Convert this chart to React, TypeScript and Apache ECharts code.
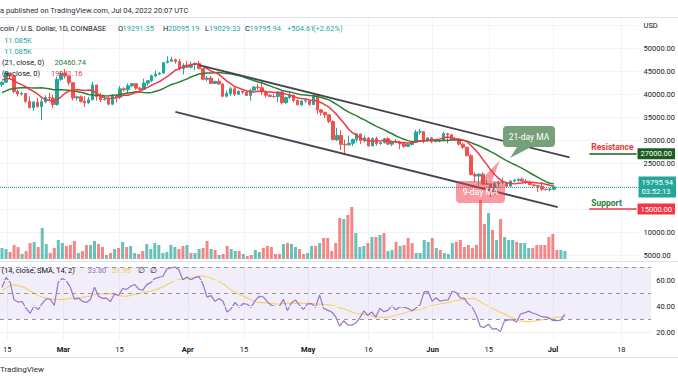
import React, { useEffect, useRef } from 'react';
import * as echarts from 'echarts';

const UP = '#26a69a';
const DOWN = '#ef5350';
const TXT = '#131722';
const FONT = 'Roboto, sans-serif';

const firstDate = '2022-02-14';
const axisDays = 162;

const tickLabels: [string, string][] = [
  ['2022-02-15', '15'], ['2022-03-01', 'Mar'], ['2022-03-15', '15'], ['2022-04-01', 'Apr'],
  ['2022-04-15', '15'], ['2022-05-01', 'May'], ['2022-05-16', '16'], ['2022-06-01', 'Jun'],
  ['2022-06-15', '15'], ['2022-07-01', 'Jul'], ['2022-07-18', '18'],
];
const monthLabels = ['Mar', 'Apr', 'May', 'Jun', 'Jul'];

// daily closes before the visible window (Jan 1 - Feb 13), used to warm up MA / RSI
const priorCloses = [
  47738, 47311, 46446, 45833, 43431, 43083, 41559, 41734, 41911, 41820, 42736, 43950, 42592, 43099,
  43178, 43112, 42251, 42375, 41744, 40681, 36458, 35075, 36277, 36655, 36955, 36836, 37165, 37717,
  38155, 37918, 38498, 38744, 36953, 37315, 41572, 41383, 42414, 43841, 44043, 44379, 43557, 42389,
  42218, 42070,
];

// Feb 14 - Jul 4, 2022
const opens = [
  42070, 42550, 44570, 43900, 40560, 40000, 40100, 38400, 37030, 38250, 37260, 38330, 39230, 39120, 37700,
  43180, 44430, 43910, 42450, 39150, 39400, 38420, 38060, 38740, 41960, 39440, 38730, 38810, 37790, 39670,
  39280, 41120, 40920, 41770, 42240, 41260, 41000, 42370, 42890, 43970, 44330, 44530, 46830, 47130, 47440, 47070,
  45530, 46280, 45830, 46420, 46620, 45520, 43190, 43460, 42280, 42770, 42160, 39530, 40090, 41150, 39940,
  40560, 40390, 39680, 40800, 41500, 41370, 40480, 39710, 39460, 39450, 40430, 38120, 39240, 39740, 38600,
  37640, 38480, 38520, 37720, 39690, 36550, 36020, 35470, 34050, 30080, 31000, 29050, 28950, 29280, 30090,
  31310, 29860, 30420, 28700, 30300, 29200, 29430, 30290, 29100, 29650, 29540, 29200, 28620, 29020, 29460, 31730,
  31800, 29800, 30450, 29700, 29860, 29910, 31370, 31130, 30200, 30110, 29090, 28420, 26580, 22490, 22150,
  22580, 20400, 20460, 19000, 20560, 20720, 20720, 19970, 21090, 21240, 21490, 21030, 20730, 20250, 20100,
  19930, 19300, 19240, 19291.35,
];
const highs = [
  42800, 44750, 44580, 44200, 40970, 40470, 40150, 39480, 38450, 39150, 39000, 39720, 40300, 39860, 43760,
  44950, 45400, 44100, 42500, 39650, 39700, 39550, 39380, 42600, 42050, 40250, 39500, 39300, 39900, 39880,
  41720, 41480, 42300, 42400, 42300, 41520, 43350, 43000, 44200, 45100, 44800, 46900, 48190, 48100, 47700, 47600,
  46700, 47200, 47050, 46900, 47200, 45530, 43900, 43960, 42800, 43400, 42420, 40700, 41550, 41500, 40880,
  40700, 40600, 41100, 41750, 42200, 42950, 40800, 39990, 39900, 40600, 40800, 39450, 40400, 39900, 38800,
  38680, 39150, 38650, 40000, 39850, 36650, 36150, 35500, 34250, 32650, 32150, 30100, 30950, 30300, 31450,
  31320, 31000, 30650, 30550, 30750, 29600, 30450, 30650, 29800, 30200, 29850, 29380, 29250, 29570, 32200, 32400,
  31970, 30650, 30680, 29950, 30150, 31750, 31550, 31330, 30650, 30350, 29450, 28550, 26900, 23000, 22800,
  22980, 21350, 20750, 20800, 21000, 21700, 20850, 21200, 21550, 21600, 21850, 21500, 21200, 20400, 20150,
  20850, 19420, 19650, 20095.19,
];
const lows = [
  41570, 42450, 43330, 40100, 39450, 39650, 38050, 36850, 36350, 37050, 34320, 38000, 38600, 37000, 37450,
  42850, 43350, 41850, 38600, 38600, 38100, 37150, 37880, 38650, 38550, 38250, 38650, 37580, 37580, 38120,
  38900, 40500, 40150, 41500, 40920, 40500, 40900, 41800, 42600, 43600, 44100, 44450, 46650, 46950, 46600, 45200,
  44250, 45650, 45550, 45150, 45350, 43150, 42750, 42150, 42150, 42000, 39250, 39250, 39600, 39560, 39800,
  40030, 39550, 38550, 40570, 40850, 39750, 39200, 39300, 39150, 38200, 37700, 37880, 38880, 38180, 37580,
  37400, 38050, 37500, 37670, 35600, 35300, 34780, 33700, 30050, 29750, 27800, 26700, 28750, 28650, 29500,
  29100, 29450, 28650, 28700, 28750, 28950, 29230, 28900, 28650, 29300, 28000, 28260, 28500, 28800, 29300, 31200,
  29300, 29600, 29300, 29450, 29500, 29880, 29250, 29850, 29950, 28850, 28100, 26550, 22300, 20850, 20100,
  20250, 20300, 17600, 17950, 19650, 20350, 19800, 19900, 20750, 20900, 21000, 20500, 20200, 19850, 18650,
  18950, 18980, 18800, 19029.33,
];
const closes = [
  42550, 44570, 43900, 40560, 40000, 40100, 38400, 37030, 38250, 37260, 38330, 39230, 39120, 37700, 43180,
  44430, 43910, 42450, 39150, 39400, 38420, 38060, 38740, 41960, 39440, 38730, 38810, 37790, 39670, 39280,
  41120, 40920, 41770, 42240, 41260, 41000, 42370, 42890, 43970, 44330, 44530, 46830, 47130, 47440, 47070, 45530,
  46280, 45830, 46420, 46620, 45520, 43190, 43460, 42280, 42770, 42160, 39530, 40090, 41150, 39940, 40560,
  40390, 39680, 40800, 41500, 41370, 40480, 39710, 39460, 39450, 40430, 38120, 39240, 39740, 38600, 37640,
  38480, 38520, 37720, 39690, 36550, 36020, 35470, 34050, 30080, 31000, 29050, 28950, 29280, 30090, 31310,
  29860, 30420, 28700, 30300, 29200, 29430, 30290, 29100, 29650, 29540, 29200, 28620, 29020, 29460, 31730, 31800,
  29800, 30450, 29700, 29860, 29910, 31370, 31130, 30200, 30110, 29090, 28420, 26580, 22490, 22150, 22580,
  20400, 20460, 19000, 20560, 20720, 20720, 19970, 21090, 21240, 21490, 21030, 20730, 20250, 20100, 19930,
  19300, 19240, 19291.35, 19795.94,
];
// volume, thousands of BTC
const volumesK = [
  15.3, 13.9, 9.7, 19.5, 16.7, 7.0, 11.1, 22.2, 23.6, 16.7, 43.1, 20.9, 8.3, 15.3, 26.4,
  22.2, 18.1, 19.5, 25.0, 8.3, 11.1, 19.5, 19.5, 25.0, 20.9, 16.7, 5.6, 8.3, 13.9, 15.3,
  23.6, 16.7, 18.1, 8.3, 7.0, 11.1, 20.9, 13.9, 22.2, 19.5, 8.3, 9.7, 19.5, 16.7, 13.9, 18.1,
  19.5, 8.3, 8.3, 13.9, 15.3, 25.0, 13.9, 12.5, 5.6, 7.0, 18.1, 13.9, 11.1, 11.1,
  7.0, 4.2, 5.6, 12.5, 9.7, 15.3, 18.1, 16.7, 7.0, 7.0, 20.9, 22.2, 20.9, 16.7, 13.9,
  7.0, 8.3, 18.1, 18.1, 22.2, 29.2, 29.2, 11.1, 22.2, 57.0,
  55.6, 61.2, 72.3, 36.1, 16.7, 18.1, 22.2, 30.6, 30.6, 33.4,
  36.1, 11.1, 12.5, 23.6, 18.1, 19.5, 29.2, 22.2, 8.3, 8.3,
  26.4, 23.6, 29.2, 15.3, 12.5, 8.3, 7.0, 22.2, 23.6, 26.4,
  16.7, 19.5, 15.3, 19.5, 82.0, 48.7, 63.9, 40.3, 26.4, 55.6,
  30.6, 26.4, 26.4, 23.6, 22.2, 22.2, 15.3, 15.3, 19.5, 19.5,
  19.5, 30.6, 34.8, 12.5, 12.5, 11.085,
];

const priceMin = 5000;
const priceMax = 55000;
const priceStep = 5000;
const hiddenPriceLabels = [15000, 20000]; // covered by the price boxes in the reference
const volumeMax = 139;
const rsiMin = 0;
const rsiMax = 80;
const rsiStep = 20;
const rsiDashed = [70, 50, 30];
const rsiSolid = [20, 40, 60];
const resistance = 27000;
const support = 15000;
const lastPrice = 19795.94;
const levelStart = '2022-07-13';
const upperChannel: [string, number][] = [['2022-04-05', 46300], ['2022-07-08', 26200]];
const lowerChannel: [string, number][] = [['2022-03-30', 36100], ['2022-07-05', 15400]];

function buildCategories(): string[] {
  const out: string[] = [];
  const start = Date.parse(firstDate + 'T00:00:00Z');
  for (let i = 0; i < axisDays; i++) out.push(new Date(start + i * 86400000).toISOString().slice(0, 10));
  return out;
}

function movingAverage(period: number): number[] {
  const all = priorCloses.concat(closes);
  const off = priorCloses.length;
  return closes.map((_, i) => {
    let s = 0;
    for (let k = off + i - period + 1; k <= off + i; k++) s += all[k];
    return Math.round((s / period) * 100) / 100;
  });
}

function rsiWithSma(period: number, smaLen: number) {
  const all = priorCloses.concat(closes);
  const rsi: (number | null)[] = all.map(() => null);
  let up = 0;
  let dn = 0;
  for (let i = 1; i < all.length; i++) {
    const ch = all[i] - all[i - 1];
    const u = Math.max(ch, 0);
    const d = Math.max(-ch, 0);
    if (i <= period) {
      up += u / period;
      dn += d / period;
      if (i < period) continue;
    } else {
      up = (up * (period - 1) + u) / period;
      dn = (dn * (period - 1) + d) / period;
    }
    rsi[i] = dn === 0 ? 100 : 100 - 100 / (1 + up / dn);
  }
  const sma: (number | null)[] = rsi.map((_, i) => {
    if (i < smaLen) return null;
    let s = 0;
    for (let k = i - smaLen + 1; k <= i; k++) {
      const v = rsi[k];
      if (v == null) return null;
      s += v;
    }
    return s / smaLen;
  });
  const off = priorCloses.length;
  return {
    rsi: rsi.slice(off).map((v) => (v == null ? null : Math.round(v * 100) / 100)),
    sma: sma.slice(off).map((v) => (v == null ? null : Math.round(v * 100) / 100)),
  };
}

function txt(text: string, x: number, y: number, fill: string, size = 7.5, weight = 'normal', align = 'left') {
  return {
    type: 'text',
    z: 100,
    style: { text, x, y, fill, fontSize: size, fontFamily: FONT, fontWeight: weight, align, verticalAlign: 'middle' },
  };
}

export default function App() {
  const ref = useRef<HTMLDivElement>(null);

  useEffect(() => {
    if (!ref.current) return;
    const chart = echarts.init(ref.current, undefined, { renderer: 'svg' });
    const categories = buildCategories();
    const lastCat = categories[categories.length - 1];
    const labelMap: Record<string, string> = {};
    tickLabels.forEach(([d, l]) => (labelMap[d] = l));

    const candleData = opens.map((o, i) => [o, closes[i], lows[i], highs[i]]);
    const volData = volumesK.map((v, i) => ({
      value: v,
      itemStyle: { color: closes[i] >= opens[i] ? 'rgba(38,166,154,0.7)' : 'rgba(239,83,80,0.7)' },
    }));
    const ma9 = movingAverage(9);
    const ma21 = movingAverage(21);
    const { rsi, sma } = rsiWithSma(14, 14);

    const left = -1.5;
    const right = 26.64;
    const boxLabel = (text: string, bg: string) => ({
      show: true,
      position: 'end',
      formatter: text,
      backgroundColor: bg,
      color: '#ffffff',
      fontSize: 7.5,
      fontFamily: FONT,
      lineHeight: 9,
      padding: [1, 3, 1, 3],
      distance: 1,
    });
    const hiddenLine = { color: 'rgba(0,0,0,0)', width: 0.01 };

    const option: any = {
      animation: false,
      backgroundColor: '#ffffff',
      textStyle: { fontFamily: FONT },
      grid: [
        { left, right, top: 25, height: 230 },
        { left, right, top: 159, height: 100 },
        { left, right, top: 254, height: 104 },
        { left: 0.5, right: 678 - 0.5 - 161 * 4.03, top: 18, bottom: 40 },
      ],
      xAxis: [
        { type: 'category', gridIndex: 0, data: categories, boundaryGap: true, show: false },
        { type: 'category', gridIndex: 1, data: categories, boundaryGap: true, show: false },
        { type: 'category', gridIndex: 2, data: categories, boundaryGap: true, show: false },
        {
          type: 'category',
          gridIndex: 3,
          data: categories,
          boundaryGap: false,
          axisLine: { show: false },
          axisTick: { show: false },
          splitLine: {
            show: true,
            interval: (_i: number, v: string) => labelMap[v] !== undefined,
            lineStyle: { color: '#f0f3fa', width: 1 },
          },
          axisLabel: {
            margin: 4,
            hideOverlap: false,
            interval: (_i: number, v: string) => labelMap[v] !== undefined,
            formatter: (v: string) => {
              const l = labelMap[v];
              if (!l) return '';
              return monthLabels.includes(l) ? `{m|${l}}` : `{d|${l}}`;
            },
            rich: {
              m: { fontSize: 7.5, fontWeight: 'bold', color: TXT, fontFamily: FONT },
              d: { fontSize: 7.5, color: TXT, fontFamily: FONT },
            },
          },
        },
      ],
      yAxis: [
        {
          type: 'value',
          gridIndex: 0,
          position: 'right',
          min: priceMin,
          max: priceMax,
          interval: priceStep,
          axisLine: { show: false },
          axisTick: { show: false },
          splitLine: { lineStyle: { color: '#f0f3fa', width: 1 } },
          axisLabel: {
            margin: 5,
            fontSize: 7.5,
            color: TXT,
            formatter: (v: number) =>
              v === priceMax ? 'USD' : hiddenPriceLabels.includes(v) ? '' : v.toFixed(2),
          },
        },
        { type: 'value', gridIndex: 1, min: 0, max: volumeMax, show: false },
        {
          type: 'value',
          gridIndex: 2,
          position: 'right',
          min: rsiMin,
          max: rsiMax,
          interval: rsiStep,
          axisLine: { show: false },
          axisTick: { show: false },
          splitLine: { show: false },
          axisLabel: {
            margin: 5,
            fontSize: 7.5,
            color: TXT,
            formatter: (v: number) => (rsiSolid.includes(v) ? v.toFixed(2) : ''),
          },
        },
        { type: 'value', gridIndex: 3, show: false },
      ],
      series: [
        {
          type: 'bar',
          xAxisIndex: 1,
          yAxisIndex: 1,
          barWidth: 3,
          data: volData,
          z: 1,
        },
        {
          type: 'candlestick',
          xAxisIndex: 0,
          yAxisIndex: 0,
          barWidth: 3,
          data: candleData,
          z: 3,
          itemStyle: { color: UP, color0: DOWN, borderColor: UP, borderColor0: DOWN, borderWidth: 1 },
          markLine: {
            silent: true,
            symbol: ['none', 'none'],
            label: { show: false },
            data: [
              {
                yAxis: lastPrice,
                lineStyle: { color: UP, type: 'dotted', width: 1 },
                label: { ...boxLabel('19795.94\n03:52:13', UP), lineHeight: 9.5, distance: 0 },
              },
              [
                { coord: upperChannel[0], lineStyle: { color: '#434651', width: 1.8, type: 'solid' } },
                { coord: upperChannel[1] },
              ],
              [
                { coord: lowerChannel[0], lineStyle: { color: '#434651', width: 1.8, type: 'solid' } },
                { coord: lowerChannel[1] },
              ],
              [
                {
                  coord: [levelStart, resistance],
                  lineStyle: { color: '#1b5e20', width: 1.5, type: 'solid' },
                  label: {
                    show: true,
                    position: 'insideStartTop',
                    formatter: 'Resistance',
                    color: '#e53935',
                    fontWeight: 'bold',
                    fontSize: 8.5,
                    fontFamily: FONT,
                    distance: 2,
                  },
                },
                { coord: [lastCat, resistance] },
              ],
              [
                { coord: [levelStart, resistance], lineStyle: hiddenLine, label: boxLabel('27000.00', '#1b5e20') },
                { coord: [lastCat, resistance] },
              ],
              [
                {
                  coord: [levelStart, support],
                  lineStyle: { color: '#f23645', width: 1.5, type: 'solid' },
                  label: {
                    show: true,
                    position: 'insideStartTop',
                    formatter: 'Support',
                    color: '#2e7d32',
                    fontWeight: 'bold',
                    fontSize: 8.5,
                    fontFamily: FONT,
                    distance: 2,
                  },
                },
                { coord: [lastCat, support] },
              ],
              [
                { coord: [levelStart, support], lineStyle: hiddenLine, label: boxLabel('15000.00', '#f23645') },
                { coord: [lastCat, support] },
              ],
            ],
          },
        },
        {
          type: 'line',
          name: 'MA21',
          xAxisIndex: 0,
          yAxisIndex: 0,
          data: ma21,
          showSymbol: false,
          symbol: 'none',
          z: 4,
          lineStyle: { color: '#2e7d32', width: 1.5 },
        },
        {
          type: 'line',
          name: 'MA9',
          xAxisIndex: 0,
          yAxisIndex: 0,
          data: ma9,
          showSymbol: false,
          symbol: 'none',
          z: 4,
          lineStyle: { color: '#f23645', width: 1.5 },
        },
        {
          type: 'line',
          name: 'RSI',
          xAxisIndex: 2,
          yAxisIndex: 2,
          data: rsi,
          showSymbol: false,
          symbol: 'none',
          z: 4,
          lineStyle: { color: '#9575cd', width: 1.2 },
          markArea: {
            silent: true,
            itemStyle: { color: 'rgba(126,87,194,0.1)' },
            data: [[{ yAxis: 30 }, { yAxis: 70 }]],
          },
          markLine: {
            silent: true,
            symbol: ['none', 'none'],
            label: { show: false },
            data: [
              ...rsiSolid.map((v) => ({ yAxis: v, lineStyle: { color: '#eceff5', width: 1, type: 'solid' } })),
              ...rsiDashed.map((v) => ({ yAxis: v, lineStyle: { color: '#9598a1', width: 1, type: [4, 4] } })),
            ],
          },
        },
        {
          type: 'line',
          name: 'RSI SMA',
          xAxisIndex: 2,
          yAxisIndex: 2,
          data: sma,
          showSymbol: false,
          symbol: 'none',
          z: 3,
          lineStyle: { color: '#f2d46b', width: 1.2 },
        },
      ],
      graphic: [
        { type: 'line', z: 50, shape: { x1: 0, y1: 17.5, x2: 678, y2: 17.5 }, style: { stroke: '#e0e3eb', lineWidth: 1 } },
        { type: 'line', z: 50, shape: { x1: 0, y1: 261.5, x2: 678, y2: 261.5 }, style: { stroke: '#e0e3eb', lineWidth: 1 } },
        { type: 'line', z: 50, shape: { x1: 0, y1: 357.5, x2: 678, y2: 357.5 }, style: { stroke: '#e0e3eb', lineWidth: 1 } },
        txt('a published on TradingView.com, Jul 04, 2022 20:07 UTC', 0, 10, '#2a2e39'),
        txt('coin / U.S. Dollar, 1D, COINBASE', 0, 28, TXT),
        txt('O', 118, 28, TXT),
        txt('19291.35', 122.5, 28, UP),
        txt('H', 163, 28, TXT),
        txt('20095.19', 168, 28, UP),
        txt('L', 205, 28, TXT),
        txt('19029.33', 209, 28, UP),
        txt('C', 245, 28, TXT),
        txt('19795.94', 249.5, 28, UP),
        txt('+504.61', 287, 28, UP),
        txt('(+2.62%)', 313, 28, UP),
        txt('11.085K', 4, 40, UP),
        txt('11.085K', 4, 51, UP),
        txt('(21, close, 0)', 2, 62.5, TXT),
        txt('20460.74', 54.5, 62.5, '#2e7d32'),
        txt('(9, close, 0)', 2, 73.5, TXT),
        txt('19941.16', 51, 73.5, '#f23645'),
        txt('(14, close, SMA, 14, 2)', 1.5, 270, TXT),
        txt('33.80', 87.5, 270, '#9575cd'),
        txt('31.95', 112, 270, '#e8c74f'),
        txt('\u2205', 138, 270, TXT),
        txt('\u2205', 149.5, 270, TXT),
        txt('TradingView', 0, 369, '#2a2e39', 8),
        { type: 'polygon', z: 90, shape: { points: [[517, 147], [531, 147], [510, 158]] }, style: { fill: '#76a078' } },
        { type: 'rect', z: 90, shape: { x: 503, y: 126, width: 52, height: 21, r: 4 }, style: { fill: '#76a078' } },
        txt('21-day MA', 529, 136.5, '#ffffff', 8.5, 'normal', 'center'),
        { type: 'polygon', z: 90, shape: { points: [[480, 181], [492, 181], [500, 160]] }, style: { fill: 'rgba(242,54,69,0.5)' } },
        { type: 'rect', z: 90, shape: { x: 456, y: 181, width: 49, height: 22, r: 4 }, style: { fill: 'rgba(242,54,69,0.5)' } },
        txt('9-day MA', 480.5, 192, '#ffffff', 8.5, 'normal', 'center'),
      ],
    };

    chart.setOption(option);
    return () => chart.dispose();
  }, []);

  return (
    <div
      ref={ref}
      style={{ position: 'absolute', left: 0, top: 0, width: 678, height: 381, overflow: 'hidden' }}
    />
  );
}
